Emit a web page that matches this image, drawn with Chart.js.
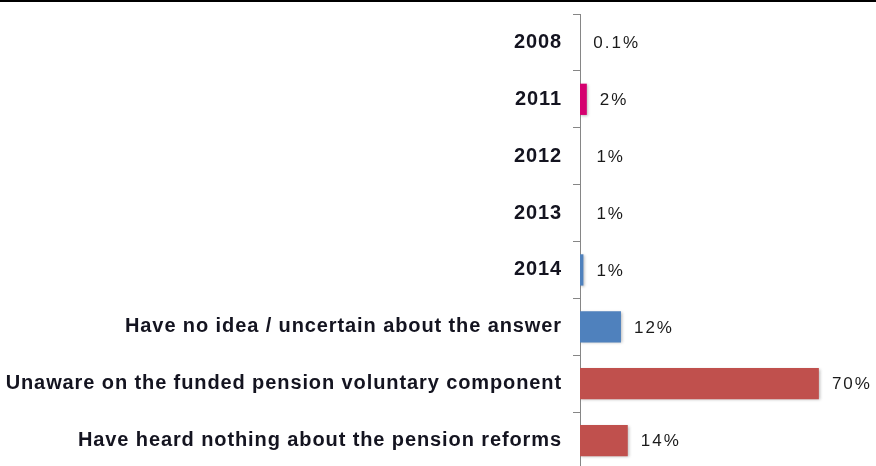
<!DOCTYPE html>
<html>
<head>
<meta charset="utf-8">
<script src="https://cdn.jsdelivr.net/npm/chart.js@4.4.1/dist/chart.umd.min.js"></script>
<style>
  html, body { margin: 0; padding: 0; background: #fff; overflow: hidden; }
  #topRule { position: absolute; left: 0; top: 0; width: 876px; height: 2px; background: #000; z-index: 2; }
  #wrap { position: absolute; left: 0; top: 0; width: 876px; height: 470px; }
</style>
</head>
<body>
<div id="topRule"></div>
<div id="wrap"><canvas id="awareChart"></canvas></div>
<script>
  // ---- data ----
  var categories = [
    "2008",
    "2011",
    "2012",
    "2013",
    "2014",
    "Have no idea / uncertain about the answer",
    "Unaware on the funded pension voluntary component",
    "Have heard nothing about the pension reforms"
  ];
  var values = [0.1, 2, 1, 1, 1, 12, 70, 14];
  var valueLabels = ["0.1%", "2%", "1%", "1%", "1%", "12%", "70%", "14%"];
  var barColors = [
    "rgba(255,255,255,0)",
    "#D5006F",
    "rgba(255,255,255,0)",
    "rgba(255,255,255,0)",
    "#4F81BD",
    "#4F81BD",
    "#C0504D",
    "#C0504D"
  ];

  // Wider tracking for the axis text (reset whenever the canvas is resized).
  var tracking = {
    id: "tracking",
    beforeLayout: function (chart) { chart.ctx.letterSpacing = "0.9px"; },
    beforeDraw: function (chart) { chart.ctx.letterSpacing = "0.9px"; }
  };

  // Soft drop shadow under the bars.
  var barShadow = {
    id: "barShadow",
    beforeDatasetsDraw: function (chart) {
      var ctx = chart.ctx;
      ctx.save();
      ctx.shadowColor = "rgba(0,0,0,0.28)";
      ctx.shadowBlur = 3;
      ctx.shadowOffsetX = 1;
      ctx.shadowOffsetY = 1;
    },
    afterDatasetsDraw: function (chart) {
      chart.ctx.restore();
    }
  };

  // Percent text to the right of each bar end.
  var endLabels = {
    id: "endLabels",
    afterDatasetsDraw: function (chart) {
      var ctx = chart.ctx;
      var meta = chart.getDatasetMeta(0);
      ctx.save();
      ctx.fillStyle = "#1a1a1a";
      ctx.font = "17px 'Liberation Sans', Arial, sans-serif";
      ctx.letterSpacing = "2px";
      ctx.textAlign = "left";
      ctx.textBaseline = "middle";
      meta.data.forEach(function (bar, i) {
        ctx.fillText(valueLabels[i], bar.x + 13, bar.y + 1);
      });
      ctx.restore();
    }
  };

  new Chart(document.getElementById("awareChart"), {
    type: "bar",
    data: {
      labels: categories,
      datasets: [{
        data: values,
        backgroundColor: barColors,
        borderWidth: 0,
        barPercentage: 0.55,
        categoryPercentage: 1
      }]
    },
    options: {
      indexAxis: "y",
      responsive: true,
      maintainAspectRatio: false,
      animation: false,
      layout: { padding: { top: 14, bottom: 1, left: 0, right: 23 } },
      plugins: {
        legend: { display: false },
        tooltip: { enabled: false }
      },
      scales: {
        x: {
          display: false,
          min: 0,
          max: 80
        },
        y: {
          afterFit: function (s) {
            s.width = 580;
            s.paddingTop = 0;
            s.paddingBottom = 0;
          },
          grid: {
            drawOnChartArea: false,
            offset: true,
            tickLength: 7,
            tickColor: "#868686",
            tickWidth: 1
          },
          border: { color: "#868686", width: 1 },
          ticks: {
            padding: 11,
            color: "#141420",
            font: { family: "'Liberation Sans', Arial, sans-serif", size: 20, weight: "bold" }
          }
        }
      }
    },
    plugins: [tracking, barShadow, endLabels]
  });
</script>
</body>
</html>
